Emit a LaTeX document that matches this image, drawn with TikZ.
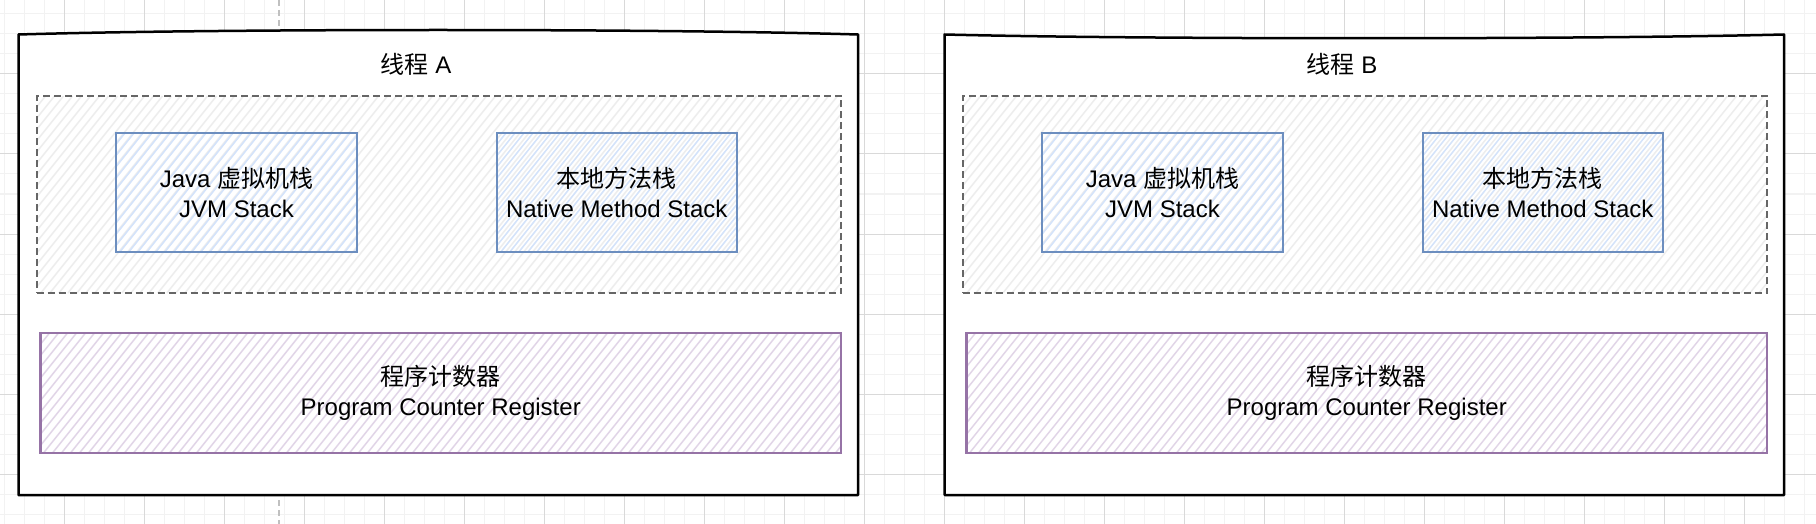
\documentclass[tikz,border=0pt]{standalone}
\usepackage{fontspec}
\setmainfont{Liberation Sans}
\newfontfamily\cjk{Noto Sans CJK SC}
\usetikzlibrary{calc}
\definecolor{bluestroke}{HTML}{6C8EBF}
\definecolor{bluehatch}{HTML}{D4E3FA}
\definecolor{purplestroke}{HTML}{9673A6}
\definecolor{purplehatch}{HTML}{E1D5E7}
\definecolor{dashstroke}{HTML}{666666}
\definecolor{dashhatch}{HTML}{EDEDED}
\definecolor{gridminor}{HTML}{F2F2F2}
\definecolor{gridmajor}{HTML}{D9D9D9}
\definecolor{guidegray}{HTML}{C0C0C0}
\newcommand\hatchrect[5]{%
  \begin{scope}
    \clip (#1,#2) rectangle (#3,#4);
    \pgfmathsetmacro\hatchh{#4-#2}
    \pgfmathsetmacro\hatchs{#1-0.8*\hatchh}
    \pgfmathsetmacro\hatcht{\hatchs+9}
    \foreach \hx in {\hatchs,\hatcht,...,#3}
      \draw[#5] (\hx,#4) -- ++(0.8*\hatchh,-\hatchh);
  \end{scope}}
\tikzset{
  gridminorline/.style={draw=gridminor, line width=1pt},
  gridmajorline/.style={draw=gridmajor, line width=1pt},
  guideline/.style={draw=guidegray, line width=1.5pt, dash pattern=on 6pt off 4pt},
  frame/.style={inner sep=0pt, outer sep=0pt, draw=none},
  outerline/.style={draw=black, fill=white, line width=2.5pt, line join=round},
  txt/.style={font=\fontsize{24}{30}\selectfont, align=center, inner sep=0pt, text=black},
  dashbox/.style={draw=dashstroke, line width=2pt, dash pattern=on 7pt off 4pt, inner sep=0pt, outer sep=0pt},
  bluebox/.style={draw=bluestroke, line width=2pt, inner sep=0pt, outer sep=0pt, txt},
  purplebox/.style={draw=purplestroke, line width=2.5pt, inner sep=0pt, outer sep=0pt, txt},
  dashhatchline/.style={draw=dashhatch, line width=1.5pt},
  bluehatchline/.style={draw=bluehatch, line width=1.5pt},
  purplehatchline/.style={draw=purplehatch, line width=1.5pt},
}
\begin{document}
\begin{tikzpicture}[x=1pt, y=-1pt]
  \useasboundingbox (0,0) rectangle (1816,524);
  \fill[white] (0,0) rectangle (1816,524);
  % background grid
  \foreach \gx in {4,24,...,1816} \draw[gridminorline] (\gx,0) -- (\gx,524);
  \foreach \gy in {14,34,...,524} \draw[gridminorline] (0,\gy) -- (1816,\gy);
  \foreach \gx in {64,144,...,1816} \draw[gridmajorline] (\gx,0) -- (\gx,524);
  \foreach \gy in {74,154,...,524} \draw[gridmajorline] (0,\gy) -- (1816,\gy);
  % guide line
  \coordinate (guidetop) at (279,0);
  \coordinate (guidebot) at (279,524);
  \draw[guideline] (guidetop) -- (guidebot);
  % left thread
  \node[frame, minimum width=839.5pt, minimum height=460.5pt] (threadA) at (438.25,264.75) {};
  \filldraw[outerline] (threadA.north west)
    .. controls ($(threadA.north west)+(200,-6)$) and ($(threadA.north east)+(-200,-6)$) .. (threadA.north east)
    -- (threadA.south east) -- (threadA.south west) -- cycle;
  \node[txt] (titleA) at (416,64.5) {{\cjk 线程} A};
  \hatchrect{36.5}{96}{841}{293}{dashhatchline}
  \node[dashbox, minimum width=804.5pt, minimum height=197pt] (regionA) at (438.75,194.5) {};
  \hatchrect{116}{133}{357}{252}{bluehatchline}
  \node[bluebox, minimum width=241pt, minimum height=119pt] (jvmA) at (236.5,192.5) {Java {\cjk 虚拟机栈}\\JVM Stack};
  \hatchrect{497}{133}{736.5}{252}{bluehatchline}
  \node[bluebox, minimum width=239.5pt, minimum height=119pt] (nativeA) at (616.75,192.5) {{\cjk 本地方法栈}\\Native Method Stack};
  \hatchrect{40.5}{333}{841}{453}{purplehatchline}
  \node[purplebox, minimum width=800.5pt, minimum height=120pt] (pcA) at (440.75,393) {{\cjk 程序计数器}\\Program Counter Register};
  % right thread
  \node[frame, minimum width=839.5pt, minimum height=460.5pt] (threadB) at (1364.25,264.75) {};
  \filldraw[outerline] (threadB.north west)
    .. controls ($(threadB.north west)+(200,5)$) and ($(threadB.north east)+(-200,5)$) .. (threadB.north east)
    -- (threadB.south east) -- (threadB.south west) -- cycle;
  \node[txt] (titleB) at (1342,64.5) {{\cjk 线程} B};
  \hatchrect{962.5}{96}{1767}{293}{dashhatchline}
  \node[dashbox, minimum width=804.5pt, minimum height=197pt] (regionB) at (1364.75,194.5) {};
  \hatchrect{1042}{133}{1283}{252}{bluehatchline}
  \node[bluebox, minimum width=241pt, minimum height=119pt] (jvmB) at (1162.5,192.5) {Java {\cjk 虚拟机栈}\\JVM Stack};
  \hatchrect{1423}{133}{1662.5}{252}{bluehatchline}
  \node[bluebox, minimum width=239.5pt, minimum height=119pt] (nativeB) at (1542.75,192.5) {{\cjk 本地方法栈}\\Native Method Stack};
  \hatchrect{966.5}{333}{1767}{453}{purplehatchline}
  \node[purplebox, minimum width=800.5pt, minimum height=120pt] (pcB) at (1366.75,393) {{\cjk 程序计数器}\\Program Counter Register};
\end{tikzpicture}
\end{document}
